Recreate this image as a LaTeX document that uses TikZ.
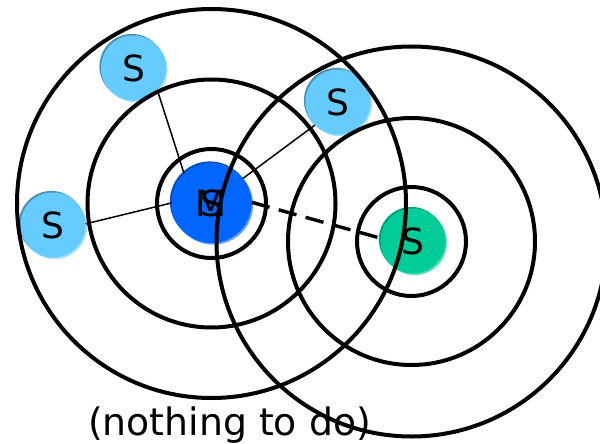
\documentclass[tikz,border=0pt]{standalone}
\usepackage{fontspec}
\setmainfont{DejaVu Sans}
\definecolor{sblue}{HTML}{66CCFF}
\definecolor{sbluedk}{HTML}{4A94BA}
\definecolor{sbluelt}{HTML}{A3E0FF}
\definecolor{mblue}{HTML}{0066FF}
\definecolor{mbluedk}{HTML}{0050C0}
\definecolor{mbluelt}{HTML}{5C9DFF}
\definecolor{mgreen}{HTML}{00CC99}
\definecolor{mgreendk}{HTML}{00A079}
\definecolor{mgreenlt}{HTML}{5EDDBE}
\tikzset{
  shadenode/.style n args={3}{circle, inner sep=0pt, fill=#1,
    preaction={fill=#2, transform canvas={shift={(-1.6pt,1.6pt)}}},
    preaction={fill=#3, transform canvas={shift={(1.6pt,-1.6pt)}}},
    font=\fontsize{36}{42}\selectfont, text=black},
  snode/.style={shadenode={sblue}{sbluedk}{sbluelt}, minimum size=65pt},
  mnode/.style={shadenode={mblue}{mbluedk}{mbluelt}, minimum size=80pt},
  gnode/.style={shadenode={mgreen}{mgreendk}{mgreenlt}, minimum size=65pt},
  ring/.style={draw=black, line width=4pt},
  link/.style={draw=black, line width=1.5pt},
  dlink/.style={draw=black, line width=3.4pt, dash pattern=on 18.5pt off 9.5pt},
}
\begin{document}
\begin{tikzpicture}[x=1pt,y=-1pt]
\useasboundingbox (0,0) rectangle (600,444);
\clip (0,0) rectangle (600,444);
\coordinate (cL) at (211.5,203.5);
\coordinate (cR) at (411.5,241.5);
% nodes
\node[mnode] (M) at (211.5,203) {\makebox[0pt]{M}\makebox[0pt]{S}};
\node[gnode] (G) at (413,241) {S};
\node[snode] (S1) at (133.5,68) {S};
\node[snode] (S2) at (338,102) {S};
\node[snode] (S3) at (53,225) {S};
% label
\node[anchor=base, font=\fontsize{37.8}{45}\selectfont, inner sep=0pt] (lbl) at (229.5,435) {(nothing to do)};
% links
\draw[link] (M.133) -- (S1.-43);
\draw[link] (M.38) -- (S2.225);
\draw[link] (M.180) -- (S3.2);
\draw[dlink] (M.1) -- (G.175);
% rings
\draw[ring] (cL) circle[radius=54.5];
\draw[ring] (cL) circle[radius=124];
\draw[ring] (cL) circle[radius=194.5];
\draw[ring] (cR) circle[radius=54.5];
\draw[ring] (cR) circle[radius=123.5];
\draw[ring] (cR) circle[radius=195];
\end{tikzpicture}
\end{document}
